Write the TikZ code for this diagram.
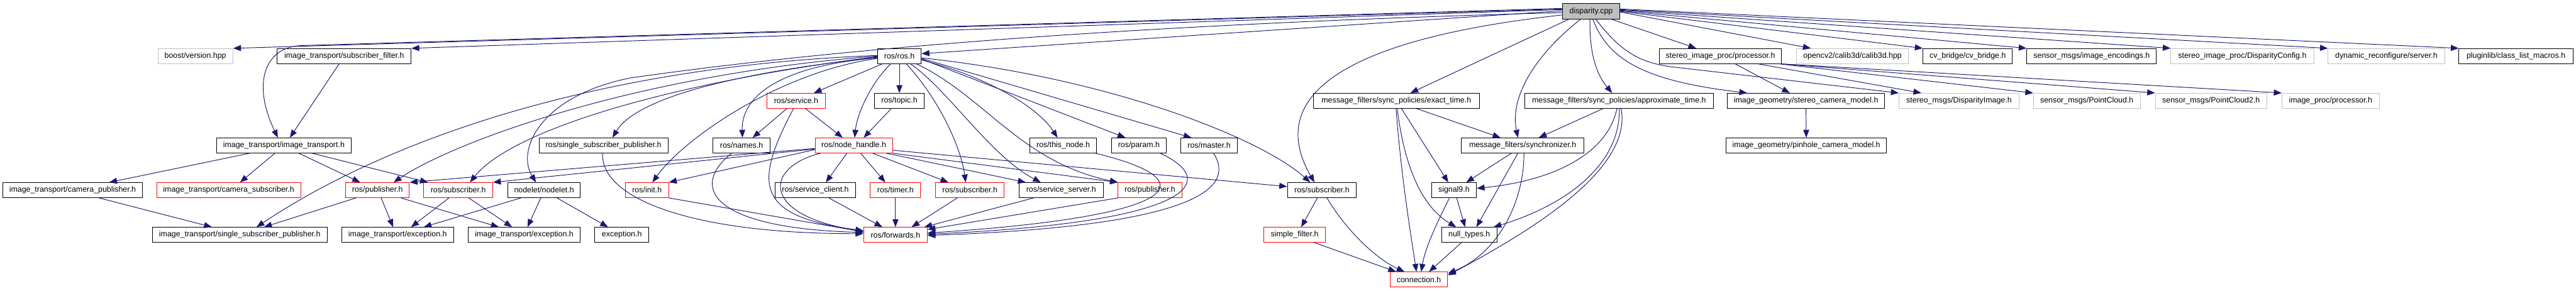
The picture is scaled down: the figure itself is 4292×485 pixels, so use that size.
\documentclass[tikz,border=0pt]{standalone}
\usepackage{fontspec}
\setmainfont{Liberation Sans}
\usetikzlibrary{arrows.meta}
\definecolor{edgec}{HTML}{191970}
\definecolor{grayb}{HTML}{BFBFBF}
\definecolor{redb}{HTML}{FF0000}
\begin{document}
\begin{tikzpicture}[x=1pt,y=-1pt,
  nb/.style={draw=black,line width=1pt,minimum height=25pt,inner sep=0pt,fill=white,
             font=\fontsize{13}{15}\selectfont,text=black},
  rb/.style={nb,draw=redb},
  gb/.style={nb,draw=grayb},
  root/.style={nb,fill=grayb},
  e/.style={draw=edgec,line width=1pt,-{Triangle[length=13pt,width=10pt]}}]
\useasboundingbox (0,0) rectangle (4292,485);
% ---------- nodes ----------
\node[root,minimum width=96pt,minimum height=26pt] (D) at (2651,19) {disparity.cpp};
% row 1
\node[gb,minimum width=125pt] (boost) at (325.5,93.5) {boost/version.hpp};
\node[nb,minimum width=223pt] (subfilt) at (573.5,93.5) {image\_transport/subscriber\_filter.h};
\node[nb,minimum width=73pt] (rosh) at (1498.5,93.5) {ros/ros.h};
\node[nb,minimum width=203pt] (sproc) at (2866.5,93.5) {stereo\_image\_proc/processor.h};
\node[gb,minimum width=187pt] (opencv) at (3086.5,93.5) {opencv2/calib3d/calib3d.hpp};
\node[nb,minimum width=149pt] (cvb) at (3278.5,93.5) {cv\_bridge/cv\_bridge.h};
\node[nb,minimum width=216pt] (enc) at (3485,93.5) {sensor\_msgs/image\_encodings.h};
\node[gb,minimum width=238pt] (dcfg) at (3736,93.5) {stereo\_image\_proc/DisparityConfig.h};
\node[gb,minimum width=194pt] (dyn) at (3976,93.5) {dynamic\_reconfigure/server.h};
\node[nb,minimum width=190pt] (plug) at (4192,93.5) {pluginlib/class\_list\_macros.h};
% row 2
\node[rb,minimum width=97pt] (service) at (1326.5,168) {ros/service.h};
\node[nb,minimum width=83pt] (topic) at (1498.5,168) {ros/topic.h};
\node[nb,minimum width=277pt] (exact) at (2326.5,168) {message\_filters/sync\_policies/exact\_time.h};
\node[nb,minimum width=315pt] (approx) at (2697.5,168) {message\_filters/sync\_policies/approximate\_time.h};
\node[nb,minimum width=262pt] (scm) at (3009,168) {image\_geometry/stereo\_camera\_model.h};
\node[gb,minimum width=200pt] (dimg) at (3264,168) {stereo\_msgs/DisparityImage.h};
\node[gb,minimum width=178pt] (pc) at (3477,168) {sensor\_msgs/PointCloud.h};
\node[gb,minimum width=186pt] (pc2) at (3684,168) {sensor\_msgs/PointCloud2.h};
\node[gb,minimum width=162pt] (iproc) at (3883,168) {image\_proc/processor.h};
% row 3
\node[nb,minimum width=224pt] (itr) at (473,242.5) {image\_transport/image\_transport.h};
\node[nb,minimum width=215pt] (rssp) at (1005.5,242.5) {ros/single\_subscriber\_publisher.h};
\node[nb,minimum width=95pt] (names) at (1235.5,242.5) {ros/names.h};
\node[rb,minimum width=129pt] (nh) at (1422.5,242.5) {ros/node\_handle.h};
\node[nb,minimum width=111pt] (thisnode) at (1771.5,242.5) {ros/this\_node.h};
\node[nb,minimum width=91pt] (param) at (1897.5,242.5) {ros/param.h};
\node[nb,minimum width=95pt] (master) at (2014.5,242.5) {ros/master.h};
\node[nb,minimum width=204pt] (sync) at (2537,242.5) {message\_filters/synchronizer.h};
\node[nb,minimum width=267pt] (pcm) at (3009.5,242.5) {image\_geometry/pinhole\_camera\_model.h};
% row 4
\node[nb,minimum width=232pt] (campub) at (121,317) {image\_transport/camera\_publisher.h};
\node[rb,minimum width=240pt] (camsub) at (381,317) {image\_transport/camera\_subscriber.h};
\node[rb,minimum width=106pt] (pub1) at (629,317) {ros/publisher.h};
\node[rb,minimum width=115pt] (sub1) at (763.5,317) {ros/subscriber.h};
\node[nb,minimum width=121pt] (nodelet) at (906.5,317) {nodelet/nodelet.h};
\node[rb,minimum width=72pt] (init) at (1078,317) {ros/init.h};
\node[nb,minimum width=135pt] (sclient) at (1358.5,317) {ros/service\_client.h};
\node[rb,minimum width=84pt] (timer) at (1492,317) {ros/timer.h};
\node[rb,minimum width=114pt] (sub2) at (1616,317) {ros/subscriber.h};
\node[nb,minimum width=140pt] (sserver) at (1768,317) {ros/service\_server.h};
\node[rb,minimum width=106pt] (pub2) at (1916,317) {ros/publisher.h};
\node[nb,minimum width=115pt] (msub) at (2202.5,317) {ros/subscriber.h};
\node[nb,minimum width=75pt] (sig9) at (2422.5,317) {signal9.h};
% row 5
\node[nb,minimum width=291pt] (itssp) at (399.5,391.5) {image\_transport/single\_subscriber\_publisher.h};
\node[nb,minimum width=187pt] (exc1) at (662.5,391.5) {image\_transport/exception.h};
\node[nb,minimum width=187pt] (exc2) at (873.5,391.5) {image\_transport/exception.h};
\node[nb,minimum width=90pt] (exc) at (1036,391.5) {exception.h};
\node[rb,minimum width=106pt] (fwd) at (1492,391.5) {ros/forwards.h};
\node[rb,minimum width=102pt] (sfilt) at (2157,391.5) {simple\_filter.h};
\node[nb,minimum width=92pt] (null) at (2448,391.5) {null\_types.h};
% row 6
\node[rb,minimum width=96pt] (conn) at (2364,466) {connection.h};
% ---------- edges from disparity.cpp ----------
\draw[e] ([yshift=4]D.west) -- (boost.north east);
\draw[e] ([yshift=3]D.west) -- (subfilt.north east);
\draw[e] ([yshift=5]D.west) -- (500,76) .. controls (440,80) and (420,140) .. ([xshift=-10]itr.north);
\draw[e] ([yshift=1]D.west) -- ([yshift=4]rosh.east);
\draw[e] ([yshift=-2]D.west) .. controls (1900,40) and (1400,80) .. (1050,130) .. controls (900,160) and (860,250) .. ([xshift=-13.5]nodelet.north);
\draw[e] ([yshift=-6]D.west) .. controls (2150,75) and (2130,200) .. ([xshift=-12.5]msub.north);
\draw[e] ([xshift=-38]D.south) -- ([xshift=23.5]exact.north);
\draw[e] ([xshift=-2]D.south) .. controls (2648,100) and (2665,130) .. ([xshift=-11.5]approx.north);
\draw[e] ([xshift=-18]D.south) .. controls (2560,90) and (2515,160) .. ([xshift=-8]sync.north);
\draw[e] ([xshift=35]D.south) -- ([xshift=-40.5]sproc.north);
\draw[e] ([yshift=-1]D.east) -- ([xshift=-69.5]opencv.north);
\draw[e] ([yshift=0]D.east) -- (cvb.north west);
\draw[e] ([yshift=1]D.east) -- (enc.north west);
\draw[e] ([yshift=2]D.east) -- (dcfg.north west);
\draw[e] ([yshift=3]D.east) -- (dyn.north west);
\draw[e] ([yshift=4]D.east) -- (plug.north west);
\draw[e] ([xshift=3]D.south) .. controls (2680,100) and (2740,135) .. ([xshift=-98]scm.north);
\draw[e] ([xshift=8]D.south) .. controls (2700,85) and (2730,105) .. (2790,112) -- (dimg.north west);
% ---------- stereo_image_proc/processor.h ----------
\draw[e] ([xshift=24.5]sproc.south) -- ([xshift=-27]scm.north);
\draw[e] ([xshift=62.5]sproc.south) -- ([xshift=-63]dimg.north);
\draw[e] ([xshift=-4]sproc.south east) -- (pc.north west);
\draw[e] ([xshift=-2]sproc.south east) -- (pc2.north west);
\draw[e] ([xshift=0]sproc.south east) -- (iproc.north west);
\draw[e] (scm.south) -- (pcm.north);
% ---------- message_filters ----------
\draw[e] ([xshift=33.5]exact.south) -- ([xshift=-37]sync.north);
\draw[e] ([xshift=8.5]exact.south) -- ([xshift=-9.5]sig9.north);
\draw[e] ([xshift=1.5]exact.south) .. controls (2340,280) and (2370,345) .. ([xshift=-22]null.north);
\draw[e] ([xshift=-0.5]exact.south) .. controls (2335,300) and (2352,400) .. ([xshift=-4]conn.north);
\draw[e] ([xshift=-26.5]approx.south) -- ([xshift=27]sync.north);
\draw[e] ([xshift=-3.5]approx.south) .. controls (2680,250) and (2600,300) .. ([yshift=3]sig9.east);
\draw[e] ([xshift=0.5]approx.south) .. controls (2700,280) and (2600,345) .. ([xshift=-6]null.north east);
\draw[e] ([xshift=3.5]approx.south) .. controls (2720,280) and (2560,380) .. ([yshift=-6]conn.north east);
\draw[e] ([xshift=-19]sync.south) -- ([xshift=20.5]sig9.north);
\draw[e] ([xshift=-8]sync.south) -- ([xshift=12]null.north);
\draw[e] ([xshift=2]sync.south) .. controls (2540,330) and (2500,420) .. ([yshift=-3]conn.north east);
\draw[e] ([xshift=4.5]sig9.south) -- ([xshift=-7]null.north);
\draw[e] ([xshift=-7.5]sig9.south) .. controls (2400,360) and (2375,410) .. ([xshift=4]conn.north);
\draw[e] ([xshift=-13]null.south) -- ([xshift=17]conn.north);
\draw[e] ([xshift=-7.5]msub.south) -- ([xshift=11]sfilt.north);
\draw[e] ([xshift=8.5]msub.south) .. controls (2240,380) and (2290,430) .. ([xshift=-24]conn.north);
\draw[e] ([xshift=33]sfilt.south) -- ([xshift=-38]conn.north);
% ---------- ros/ros.h ----------
\draw[e] (rosh.south) -- (topic.north);
\draw[e] ([xshift=-14.5]rosh.south) .. controls (1450,140) and (1428,190) .. ([xshift=1.5]nh.north);
\draw[e] ([xshift=-28.5]rosh.south) -- ([xshift=29.5]service.north);
\draw[e] ([xshift=11.5]rosh.south) .. controls (1560,160) and (1600,240) .. ([xshift=-7]sub2.north);
\draw[e] ([xshift=18.5]rosh.south) .. controls (1580,150) and (1650,260) .. ([xshift=-34]sserver.north);
\draw[e] ([xshift=28.5]rosh.south) .. controls (1640,160) and (1700,270) .. (pub2.north west);
\draw[e] ([yshift=-6.5]rosh.east) .. controls (1650,130) and (1730,180) .. ([xshift=-9.5]thisnode.north);
\draw[e] ([yshift=-5]rosh.east) -- ([xshift=-22.5]param.north);
\draw[e] ([yshift=-4]rosh.east) -- ([xshift=-29.5]master.north);
\draw[e] ([yshift=-3]rosh.east) .. controls (1850,130) and (2100,230) .. ([xshift=-19.5]msub.north);
\draw[e] ([yshift=-3]rosh.west) .. controls (1300,110) and (1235,160) .. ([xshift=1.5]names.north);
\draw[e] ([yshift=-4]rosh.west) .. controls (1300,120) and (1140,230) .. ([xshift=9]init.north);
\draw[e] ([yshift=-2]rosh.west) .. controls (1150,130) and (1050,180) .. ([xshift=15]rssp.north);
\draw[e] ([yshift=-1]rosh.west) .. controls (1100,140) and (850,220) .. ([xshift=19.5]sub1.north);
\draw[e] ([yshift=0]rosh.west) .. controls (1050,125) and (750,240) .. ([xshift=27]pub1.north);
\draw[e] ([yshift=1]rosh.west) .. controls (1000,110) and (650,230) .. ([xshift=28]itssp.north);
% ---------- service / topic / names ----------
\draw[e] ([xshift=-15.5]service.south) -- ([xshift=18.5]names.north);
\draw[e] ([xshift=15.5]service.south) -- ([xshift=-18.5]nh.north);
\draw[e] ([xshift=-4.5]service.south) .. controls (1260,300) and (1250,360) .. ([yshift=7]fwd.west);
\draw[e] ([xshift=-13.5]topic.south) -- ([xshift=16.5]nh.north);
\draw[e] ([xshift=-16.5]names.south) .. controls (1150,310) and (1180,380) .. ([yshift=4]fwd.west);
\draw[e] ([xshift=-1.5]rssp.south) .. controls (1000,330) and (1150,390) .. ([yshift=2]fwd.west);
% ---------- node_handle ----------
\draw[e] ([xshift=-11.5]nh.south) -- ([xshift=17.5]sclient.north);
\draw[e] ([xshift=11.5]nh.south) -- ([xshift=-17]timer.north);
\draw[e] ([xshift=31.5]nh.south) -- ([xshift=-36]sub2.north);
\draw[e] ([xshift=54.5]nh.south) -- ([xshift=-59]sserver.north);
\draw[e] (nh.south east) -- (pub2.north west);
\draw[e] ([yshift=-8]nh.east) -- ([yshift=6]msub.west);
\draw[e] ([xshift=-55.5]nh.south) .. controls (1270,280) and (1270,360) .. ([yshift=6]fwd.west);
\draw[e] ([yshift=-7]nh.west) -- (init.north east);
\draw[e] ([yshift=-5]nh.west) -- (pub1.north east);
\draw[e] ([yshift=-6]nh.west) -- (sub1.north east);
% ---------- to ros/forwards.h ----------
\draw[e] (init.south east) -- ([yshift=5]fwd.west);
\draw[e] ([xshift=22.5]sclient.south) -- ([xshift=-22]fwd.north);
\draw[e] (timer.south) -- (fwd.north);
\draw[e] ([xshift=-21]sub2.south) -- ([xshift=27]fwd.north);
\draw[e] ([xshift=-46]sserver.south) -- ([xshift=48]fwd.north);
\draw[e] (pub2.south west) -- ([yshift=9]fwd.east);
\draw[e] ([xshift=53.5]thisnode.south) .. controls (2010,300) and (1980,360) .. ([yshift=3]fwd.east);
\draw[e] ([xshift=35.5]param.south) .. controls (2030,300) and (2000,370) .. ([yshift=1]fwd.east);
\draw[e] ([xshift=7.5]master.south) .. controls (2050,300) and (2040,375) .. ([yshift=-1]fwd.east);
% ---------- image_transport ----------
\draw[e] ([xshift=-8.5]subfilt.south) -- ([xshift=10]itr.north);
\draw[e] ([xshift=-57]itr.south) -- ([xshift=61]campub.north);
\draw[e] ([xshift=-15]itr.south) -- ([xshift=19]camsub.north);
\draw[e] ([xshift=25]itr.south) -- ([xshift=-29]pub1.north);
\draw[e] ([xshift=47]itr.south) -- ([xshift=-50.5]sub1.north);
\draw[e] ([xshift=44]campub.south) -- ([xshift=-46.5]itssp.north);
\draw[e] ([xshift=-36]pub1.south) -- ([xshift=40.5]itssp.north);
\draw[e] ([xshift=6]pub1.south) -- ([xshift=-7.5]exc1.north);
\draw[e] ([xshift=39]pub1.south) -- ([xshift=-42.5]exc2.north);
\draw[e] ([xshift=-15.5]sub1.south) -- ([xshift=22.5]exc1.north);
\draw[e] ([xshift=17.5]sub1.south) -- ([xshift=-20.5]exc2.north);
\draw[e] ([xshift=-38.5]nodelet.south) -- ([xshift=43.5]exc1.north);
\draw[e] ([xshift=-5.5]nodelet.south) -- ([xshift=5.5]exc2.north);
\draw[e] ([xshift=21.5]nodelet.south) -- ([xshift=-23]exc.north);
\end{tikzpicture}
\end{document}
